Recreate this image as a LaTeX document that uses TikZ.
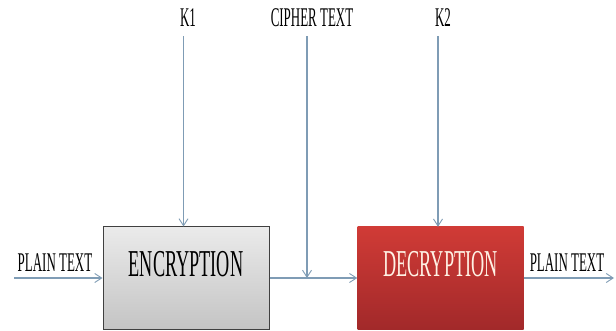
\documentclass[tikz,border=0pt]{standalone}
\usepackage{fontspec}
\setmainfont{Liberation Serif}
\newfontfamily\narrowfont[FakeStretch=0.48]{Liberation Serif}
\usetikzlibrary{arrows.meta,positioning}

\definecolor{flowblue}{HTML}{7F9CB5}
\definecolor{encgray}{HTML}{C4C4C4}
\definecolor{declight}{HTML}{D03B36}
\definecolor{decdark}{HTML}{A2292A}

\tikzset{
    flow/.style={draw=flowblue,line width=1.3pt,-{Straight Barb[length=7pt,width=9pt,line width=0.9pt]}},
    lbl/.style={font=\narrowfont\fontsize{27}{27}\selectfont,inner sep=0pt},
    cryptbox/.style={minimum width=166pt,minimum height=102pt,inner sep=0pt,
        font=\narrowfont\fontsize{38}{38}\selectfont,text depth=29pt},
}

\begin{document}
\begin{tikzpicture}[x=1pt,y=-1pt]
    \useasboundingbox[fill=white] (0,0) rectangle (616,331);
    % blocks
    \node[cryptbox,draw=black!75,line width=1pt,top color=white!92!black,bottom color=encgray] (enc) at (186,278) {ENCRYPTION};
    \node[cryptbox,top color=declight,bottom color=decdark,text=white!90!orange] (dec) at (440.5,278) {DECRYPTION};
    % labels
    \node[lbl] (k1) at (188,18) {K1};
    \node[lbl] (cipher) at (312,18) {CIPHER TEXT};
    \node[lbl] (k2) at (443,18) {K2};
    \node[lbl] (plainin) at (55,263) {PLAIN TEXT};
    \node[lbl] (plainout) at (567,263) {PLAIN TEXT};
    % free ends
    \coordinate (in) at (14,278);
    \coordinate (out) at (614,278);
    \coordinate (ct) at (307,278);
    % arrows
    \draw[flow] (in) -- (enc.west);
    \draw[flow] (enc.east) -- (dec.west);
    \draw[flow] (dec.east) -- (out);
    \draw[flow] (k1.south -| 183.5,0) ++(0,9) -- (183.5,0 |- enc.north);
    \draw[flow] (cipher.south -| ct) ++(0,9) -- (ct);
    \draw[flow] (k2.south -| 438,0) ++(0,9) -- (438,0 |- dec.north);
\end{tikzpicture}
\end{document}
